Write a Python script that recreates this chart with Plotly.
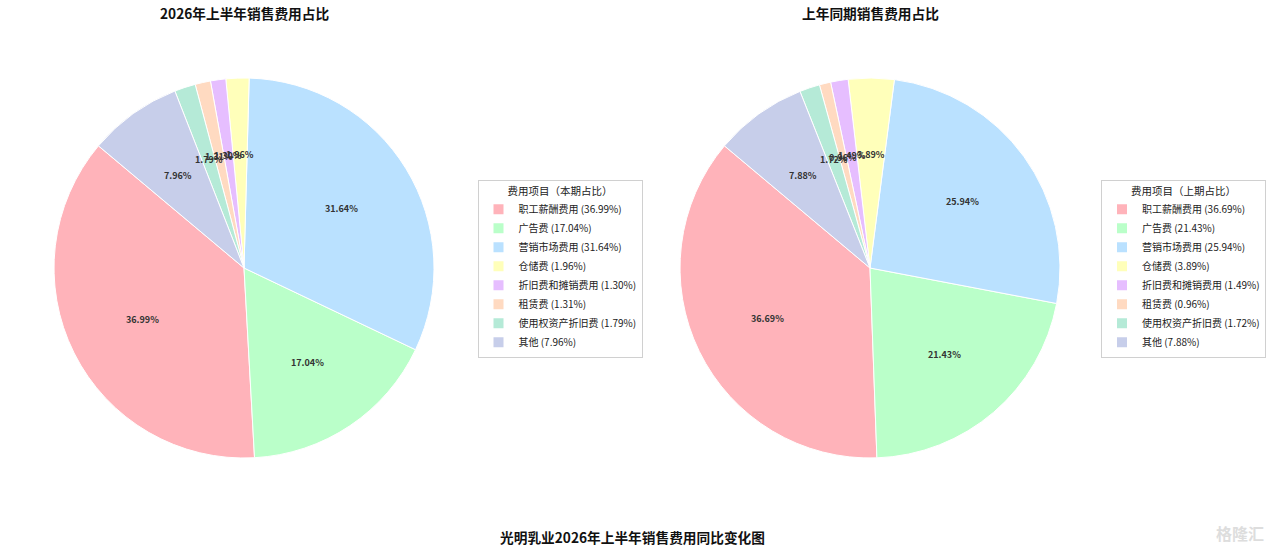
import math
import plotly.graph_objects as go

W, H = 1269, 551

categories = ["职工薪酬费用", "广告费", "营销市场费用", "仓储费", "折旧费和摊销费用",
              "租赁费", "使用权资产折旧费", "其他"]
current_pct = [36.99, 17.04, 31.64, 1.96, 1.30, 1.31, 1.79, 7.96]
previous_pct = [36.69, 21.43, 25.94, 3.89, 1.49, 0.96, 1.72, 7.88]
colors = ["#FFB3BA", "#BAFFC9", "#BAE1FF", "#FFFFBA", "#E6BEFF", "#FFDAC1", "#B5EAD7", "#C7CEEA"]

title_left = "2026年上半年销售费用占比"
title_right = "上年同期销售费用占比"
legend_title_left = "费用项目（本期占比）"
legend_title_right = "费用项目（上期占比）"
main_title = "光明乳业2026年上半年销售费用同比变化图"

FONT = "Noto Sans CJK SC"
START_ANGLE = 140  # degrees, counterclockwise from 3 o'clock
R_PX = 190
centers = [(244, 268), (870, 268)]

fig = go.Figure()
annotations = []


def add_pie(vals, cx, cy, legend_name, legend_title, lx, lanchor, show_title):
    labels = [f"{c} ({v:.2f}%)" for c, v in zip(categories, vals)]
    dom_x = [(cx - R_PX) / W, (cx + R_PX) / W]
    dom_y = [(H - cy - R_PX) / H, (H - cy + R_PX) / H]
    total = sum(vals)
    # plotly counterclockwise: first slice's ccw edge sits at the rotation point
    first_end = START_ANGLE + 360 * vals[0] / total
    fig.add_trace(go.Pie(
        labels=labels, values=vals, sort=False, direction="counterclockwise",
        rotation=90 - first_end, textinfo="none", hoverinfo="label+value",
        marker=dict(colors=colors, line=dict(color="white", width=1)),
        domain=dict(x=dom_x, y=dom_y), legend=legend_name, showlegend=True,
    ))
    cum = 0.0
    for v in vals:
        mid = math.radians(START_ANGLE + 360 * (cum + v / 2) / total)
        cum += v
        px = cx + 0.6 * R_PX * math.cos(mid)
        py = cy - 0.6 * R_PX * math.sin(mid)
        annotations.append(dict(
            x=px / W, y=1 - py / H, xref="paper", yref="paper", showarrow=False,
            text=f"<b>{v / total * 100:.2f}%</b>", font=dict(family=FONT, size=9, color="#333333"),
            xanchor="center", yanchor="middle"))
    annotations.append(dict(
        x=cx / W, y=1 - 13 / H, xref="paper", yref="paper", showarrow=False,
        text=f"<b>{show_title}</b>", font=dict(family=FONT, size=13.7, color="#111111"),
        xanchor="center", yanchor="middle"))
    return dict(
        x=lx / W, y=1 - 269 / H, xanchor=lanchor, yanchor="middle",
        bgcolor="white", bordercolor="#d0d0d0", borderwidth=1,
        font=dict(family=FONT, size=10, color="#222222"),
        title=dict(text=legend_title, side="top center", font=dict(family=FONT, size=10.5, color="#222222")),
        itemsizing="constant", tracegroupgap=0,
    )


leg1 = add_pie(current_pct, *centers[0], "legend", legend_title_left, 560, "center", title_left)
leg2 = add_pie(previous_pct, *centers[1], "legend2", legend_title_right, 1266, "right", title_right)

annotations.append(dict(
    x=632 / W, y=1 - 537 / H, xref="paper", yref="paper", showarrow=False,
    text=f"<b>{main_title}</b>", font=dict(family=FONT, size=13.7, color="#111111"),
    xanchor="center", yanchor="middle"))
annotations.append(dict(
    x=1240 / W, y=1 - 533 / H, xref="paper", yref="paper", showarrow=False,
    text="<b>格隆汇</b>", font=dict(family=FONT, size=16, color="#dddddd"),
    xanchor="center", yanchor="middle"))

fig.update_layout(
    width=W, height=H, margin=dict(l=0, r=0, t=0, b=0),
    paper_bgcolor="white", plot_bgcolor="white",
    font=dict(family=FONT),
    legend=leg1, legend2=leg2,
    annotations=annotations,
)

fig.write_html("out.html", config={"displayModeBar": False},
               post_script="document.body.style.margin='0';document.body.style.overflow='hidden';")
